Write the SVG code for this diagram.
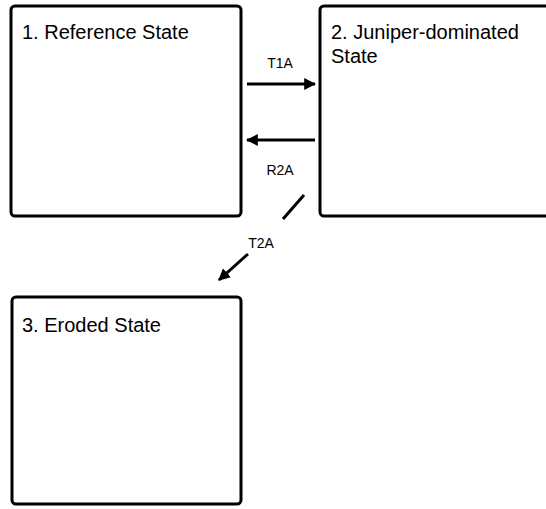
<svg xmlns="http://www.w3.org/2000/svg" width="546" height="509" viewBox="0 0 546 509">
<style>
.box{fill:#fff;stroke:#000;stroke-width:3}
.t{font-family:"Liberation Sans",Arial,sans-serif;font-size:20px;fill:#000}
.l{font-family:"Liberation Sans",Arial,sans-serif;font-size:14px;fill:#000;text-anchor:middle}
.c{stroke:#000;stroke-width:3;fill:none}
</style>
<defs>
<marker id="ah" viewBox="0 0 10 10" refX="9" refY="5" markerWidth="4" markerHeight="4" orient="auto" markerUnits="strokeWidth">
<path d="M0,0 L10,5 L0,10 z" fill="#000"/>
</marker>
</defs>
<rect width="546" height="509" fill="#fff"/>
<g id="node1">
<rect class="box" x="11" y="6" width="230" height="210" rx="4"/>
<text class="t" x="22" y="39">1. Reference State</text>
</g>
<g id="node2">
<rect class="box" x="320" y="6" width="240" height="210" rx="4"/>
<text class="t" x="331" y="39">2. Juniper-dominated</text>
<text class="t" x="331" y="63">State</text>
</g>
<g id="connectors">
<line class="c" x1="247" y1="84" x2="315" y2="84" marker-end="url(#ah)"/>
<text class="l" x="280" y="68">T1A</text>
<line class="c" x1="315" y1="140" x2="247" y2="140" marker-end="url(#ah)"/>
<text class="l" x="280" y="175">R2A</text>
<line class="c" x1="304" y1="195" x2="283" y2="219"/>
<text class="l" x="261" y="248">T2A</text>
<line class="c" x1="248" y1="254" x2="219" y2="280" marker-end="url(#ah)"/>
</g>
<g id="node3">
<rect class="box" x="12" y="297" width="229" height="207" rx="4"/>
<text class="t" x="22" y="332">3. Eroded State</text>
</g>
</svg>
